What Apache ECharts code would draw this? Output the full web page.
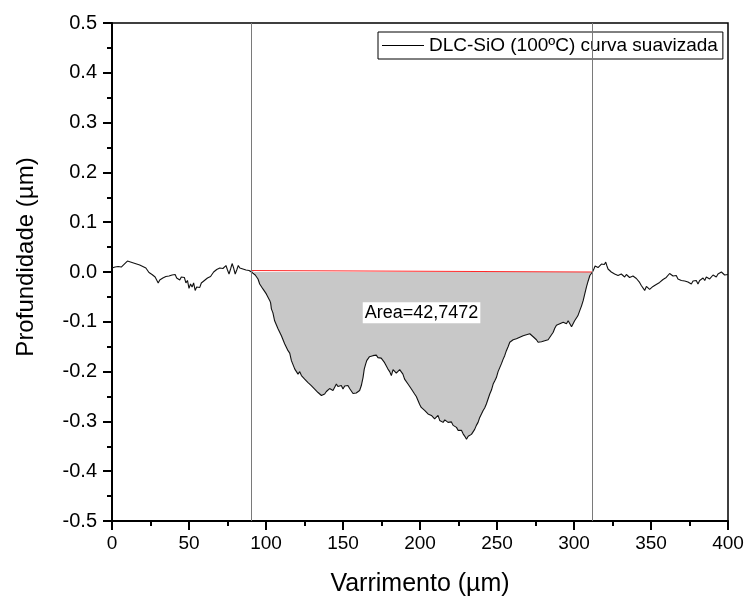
<!DOCTYPE html>
<html>
<head>
<meta charset="utf-8">
<script src="https://cdn.jsdelivr.net/npm/echarts@6/dist/echarts.min.js"></script>
<style>
  html, body { margin: 0; padding: 0; background: #fff; }
  #chart { width: 748px; height: 597px; }
</style>
</head>
<body>
<div id="chart"></div>
<script>
// perfil antes da pista (x em µm, profundidade em µm)
var leftProfile = [
  [0, 0.008], [1, 0.012], [2, 0.010], [3, 0.014], [4, 0.011], [5, 0.013], [6, 0.010], [7, 0.014],
  [8, 0.016], [9, 0.019], [10, 0.022], [11, 0.025], [12, 0.020], [13, 0.022], [14, 0.018],
  [15, 0.019], [16, 0.016], [17, 0.019], [18, 0.014], [19, 0.015], [20, 0.011], [21, 0.012],
  [22, 0.008], [23, 0.004], [24, -0.001], [25, 0.002], [26, -0.005], [27, -0.002], [28, -0.010],
  [29, -0.012], [30, -0.022], [31, -0.016], [32, -0.019], [33, -0.012], [34, -0.014], [35, -0.009],
  [36, -0.012], [37, -0.008], [38, -0.011], [39, -0.006], [40, -0.009], [41, -0.005], [42, -0.012],
  [43, -0.008], [44, -0.016], [45, -0.010], [46, -0.014], [47, -0.011], [48, -0.022], [49, -0.017],
  [50, -0.033], [51, -0.024], [52, -0.030], [53, -0.022], [54, -0.037], [55, -0.030], [56, -0.027],
  [57, -0.031], [58, -0.022], [59, -0.024], [60, -0.017], [61, -0.019], [62, -0.012], [63, -0.015],
  [64, -0.009], [65, -0.006], [66, 0.000], [67, -0.002], [68, 0.005], [69, 0.003], [70, 0.008],
  [71, 0.005], [72, 0.007], [73, 0.004], [74, 0.013], [75, 0.004], [76, -0.004], [77, 0.006],
  [78, 0.017], [79, 0.008], [80, -0.004], [81, 0.004], [82, 0.013], [83, 0.008], [84, 0.011],
  [85, 0.006], [86, 0.008], [87, 0.004], [88, 0.006], [89, 0.003]
]
// pista de desgaste (zona integrada)
var craterProfile = [
  [90.1, 0.003], [91.0, -0.001], [92.0, 0.001], [93.0, -0.006], [93.7, -0.010], [94.8, -0.014],
  [95.9, -0.024], [97.0, -0.026], [98.0, -0.034], [99.1, -0.036], [100.2, -0.044], [101.3, -0.046],
  [102.4, -0.057], [103.0, -0.062], [103.5, -0.074], [104.5, -0.082], [105.6, -0.098], [106.7, -0.102],
  [107.8, -0.114], [108.9, -0.116], [110.0, -0.128], [111.0, -0.130], [112.1, -0.144], [113.2, -0.146],
  [114.3, -0.158], [115.4, -0.163], [116.5, -0.178], [117.6, -0.182], [118.7, -0.195], [119.8, -0.194],
  [120.8, -0.205], [121.9, -0.200], [123.0, -0.208], [124.0, -0.205], [125.1, -0.215], [126.2, -0.212],
  [127.3, -0.222], [128.4, -0.219], [129.4, -0.228], [130.5, -0.225], [131.6, -0.235], [132.7, -0.232],
  [133.8, -0.242], [134.9, -0.240], [136.0, -0.248], [137.0, -0.246], [138.1, -0.245], [139.2, -0.240],
  [140.3, -0.238], [141.3, -0.234], [142.4, -0.232], [143.5, -0.238], [144.6, -0.235], [145.7, -0.225],
  [146.7, -0.230], [147.8, -0.232], [148.9, -0.228], [150.0, -0.235], [151.1, -0.229], [152.2, -0.232],
  [153.2, -0.228], [154.3, -0.234], [155.4, -0.238], [156.5, -0.244], [157.6, -0.248], [158.6, -0.243],
  [159.7, -0.245], [160.8, -0.238], [161.9, -0.228], [163.0, -0.212], [163.8, -0.195], [164.7, -0.185],
  [165.4, -0.178], [166.2, -0.175], [167.2, -0.170], [168.3, -0.172], [169.4, -0.168], [170.5, -0.170],
  [171.6, -0.167], [172.7, -0.172], [173.7, -0.170], [174.8, -0.173], [175.9, -0.176], [177.0, -0.182],
  [178.1, -0.186], [179.2, -0.195], [180.3, -0.200], [181.4, -0.208], [182.5, -0.196], [183.5, -0.198],
  [184.6, -0.203], [185.7, -0.205], [186.8, -0.196], [187.9, -0.198], [188.9, -0.205], [190.0, -0.215],
  [191.1, -0.218], [192.2, -0.225], [193.3, -0.230], [194.4, -0.235], [195.4, -0.238], [196.5, -0.245],
  [197.6, -0.250], [198.7, -0.258], [199.8, -0.266], [200.8, -0.272], [201.9, -0.271], [203.0, -0.278],
  [204.1, -0.280], [205.2, -0.285], [206.3, -0.283], [207.4, -0.288], [208.5, -0.286], [209.5, -0.295],
  [210.6, -0.291], [211.7, -0.288], [212.8, -0.298], [213.9, -0.294], [215.0, -0.302], [216.1, -0.297],
  [217.2, -0.298], [218.2, -0.302], [219.3, -0.305], [220.4, -0.301], [221.5, -0.308], [222.6, -0.305],
  [223.7, -0.312], [224.7, -0.318], [225.8, -0.322], [226.9, -0.318], [228.0, -0.325], [229.1, -0.330],
  [230.2, -0.336], [231.3, -0.330], [232.3, -0.329], [233.4, -0.326], [234.5, -0.322], [235.5, -0.316],
  [236.6, -0.308], [237.7, -0.302], [238.8, -0.292], [239.9, -0.288], [241.0, -0.278], [242.0, -0.273],
  [243.1, -0.265], [244.2, -0.255], [245.3, -0.245], [246.4, -0.237], [247.5, -0.225], [248.5, -0.219],
  [249.6, -0.212], [250.7, -0.200], [251.8, -0.192], [252.9, -0.184], [254.0, -0.175], [255.0, -0.168],
  [256.1, -0.158], [257.2, -0.150], [258.3, -0.141], [259.4, -0.140], [260.5, -0.136], [261.5, -0.138],
  [262.6, -0.134], [263.7, -0.135], [264.8, -0.131], [265.9, -0.133], [267.0, -0.128], [268.0, -0.130],
  [269.1, -0.126], [270.2, -0.128], [271.3, -0.124], [272.4, -0.126], [273.5, -0.130], [274.6, -0.133],
  [275.6, -0.136], [276.7, -0.141], [277.8, -0.143], [278.9, -0.140], [280.0, -0.144], [281.0, -0.138],
  [282.1, -0.134], [283.2, -0.136], [284.3, -0.131], [285.4, -0.127], [286.5, -0.121], [287.5, -0.113],
  [288.6, -0.107], [289.7, -0.109], [290.8, -0.104], [291.9, -0.106], [293.0, -0.101], [294.0, -0.105],
  [295.1, -0.104], [296.2, -0.098], [297.3, -0.101], [298.4, -0.110], [299.5, -0.107], [300.4, -0.098],
  [301.2, -0.097], [302.5, -0.088], [303.8, -0.077], [304.9, -0.068], [306.0, -0.057], [307.0, -0.044],
  [308.1, -0.030], [309.2, -0.018], [310.3, -0.007], [311.2, -0.003], [312.0, 0.000]
]
// perfil depois da pista
var rightProfile = [
  [312.9, 0.006], [313.7, 0.012], [314.5, 0.013], [315.6, 0.009], [316.7, 0.010], [317.8, 0.016],
  [318.8, 0.018], [319.7, 0.015], [320.6, 0.020], [321.4, 0.012], [322.1, 0.006], [323.1, 0.004],
  [324.2, 0.000], [325.3, 0.002], [326.4, -0.004], [327.5, -0.002], [328.6, -0.007], [329.6, -0.003],
  [330.7, -0.004], [331.8, -0.006], [332.9, -0.010], [334.0, -0.005], [335.1, -0.007], [336.1, -0.011],
  [337.2, -0.014], [338.3, -0.008], [339.4, -0.010], [340.5, -0.013], [341.6, -0.017], [342.6, -0.021],
  [343.7, -0.027], [344.8, -0.031], [345.9, -0.037], [347.0, -0.029], [348.1, -0.030], [349.1, -0.035],
  [350.2, -0.037], [351.3, -0.029], [352.4, -0.030], [353.4, -0.025], [354.5, -0.027], [355.6, -0.021],
  [356.7, -0.020], [357.8, -0.015], [358.9, -0.017], [359.9, -0.011], [361.0, -0.010], [362.1, -0.003],
  [363.2, -0.004], [364.3, -0.008], [365.4, -0.010], [366.4, -0.007], [367.5, -0.014], [368.6, -0.012],
  [369.7, -0.017], [370.8, -0.014], [371.9, -0.018], [372.9, -0.016], [374.0, -0.020], [375.1, -0.017],
  [376.2, -0.024], [377.3, -0.018], [378.4, -0.020], [379.4, -0.017], [380.5, -0.024], [381.6, -0.017],
  [382.7, -0.014], [383.8, -0.012], [384.9, -0.017], [385.9, -0.010], [387.0, -0.009], [388.1, -0.014],
  [389.2, -0.012], [390.3, -0.006], [391.4, -0.007], [392.4, -0.010], [393.5, -0.004], [394.6, -0.006],
  [395.7, 0.000], [396.8, 0.002], [397.8, -0.006], [398.9, -0.004], [400, -0.005]
]
var baseline = [[90.1, 0.003], [312.0, 0.000]]
var limits = [90.1, 312.0]
var areaText = 'Area=42,7472'
var areaLabelAt = [201, -0.082]
var seriesName = 'DLC-SiO (100ºC) curva suavizada'

var fontFamily = 'Liberation Sans, Arial, sans-serif'
var profile = leftProfile.concat(craterProfile, rightProfile)

var myChart = echarts.init(document.getElementById('chart'))
var option = {
  animation: false,
  backgroundColor: '#fff',
  textStyle: { fontFamily: fontFamily },
  grid: {
    left: 112, right: 20, top: 23, bottom: 76,
    show: true, borderColor: '#000', borderWidth: 1.5,
    outerBoundsMode: 'none'
  },
  legend: {
    data: [seriesName],
    left: 378, top: 32,
    padding: [4, 5, 4, 4],
    borderColor: '#000', borderWidth: 1,
    backgroundColor: '#fff',
    icon: 'rect', itemWidth: 42, itemHeight: 1,
    textStyle: { fontSize: 19, color: '#000', fontFamily: fontFamily },
    selectedMode: false
  },
  xAxis: {
    type: 'value', min: 0, max: 400, interval: 50,
    name: 'Varrimento (µm)', nameLocation: 'middle', nameGap: 51,
    nameTextStyle: { fontSize: 25, color: '#000', fontFamily: fontFamily },
    axisLine: { show: true, onZero: false, lineStyle: { color: '#000', width: 2 } },
    axisTick: { show: true, length: 9, lineStyle: { color: '#000', width: 2 } },
    minorTick: { show: true, splitNumber: 2, length: 5, lineStyle: { color: '#000', width: 2 } },
    axisLabel: { fontSize: 19, color: '#000', margin: 13, showMinLabel: true, showMaxLabel: true },
    splitLine: { show: false }
  },
  yAxis: {
    type: 'value', min: -0.5, max: 0.5, interval: 0.1,
    name: 'Profundidade (µm)', nameLocation: 'middle', nameGap: 74,
    nameTextStyle: { fontSize: 24, color: '#000', fontFamily: fontFamily, padding: [0, 0, 0, 30] },
    axisLine: { show: true, onZero: false, lineStyle: { color: '#000', width: 2 } },
    axisTick: { show: true, length: 9, lineStyle: { color: '#000', width: 2 } },
    minorTick: { show: true, splitNumber: 2, length: 5, lineStyle: { color: '#000', width: 2 } },
    axisLabel: {
      fontSize: 20, color: '#000', margin: 15, showMinLabel: true, showMaxLabel: true,
      formatter: function (v) { return Math.abs(v) < 1e-9 ? '0.0' : v.toFixed(1) }
    },
    splitLine: { show: false }
  },
  series: [
    {
      name: 'area',
      type: 'line',
      data: craterProfile,
      showSymbol: false,
      silent: true,
      lineStyle: { width: 0 },
      areaStyle: { color: '#c8c8c8', opacity: 1, origin: 0 },
      z: 1,
      markPoint: {
        silent: true,
        symbol: 'rect',
        symbolSize: 0,
        data: [{ coord: areaLabelAt }],
        label: {
          show: true, position: 'inside', formatter: areaText,
          fontSize: 18, color: '#000', fontFamily: fontFamily,
          backgroundColor: '#fff', padding: [2, 2, 1, 2]
        }
      }
    },
    {
      name: 'baseline',
      type: 'line',
      data: baseline,
      showSymbol: false,
      silent: true,
      lineStyle: { color: '#ff2a2a', width: 1.2 },
      z: 2
    },
    {
      name: seriesName,
      type: 'line',
      data: profile,
      showSymbol: false,
      color: '#000',
      lineStyle: { color: '#111', width: 1.1 },
      z: 3,
      markLine: {
        silent: true,
        symbol: 'none',
        label: { show: false },
        lineStyle: { color: '#7a7a7a', width: 1, type: 'solid' },
        data: limits.map(function (v) { return { xAxis: v } })
      }
    }
  ]
}
myChart.setOption(option)
</script>
</body>
</html>
